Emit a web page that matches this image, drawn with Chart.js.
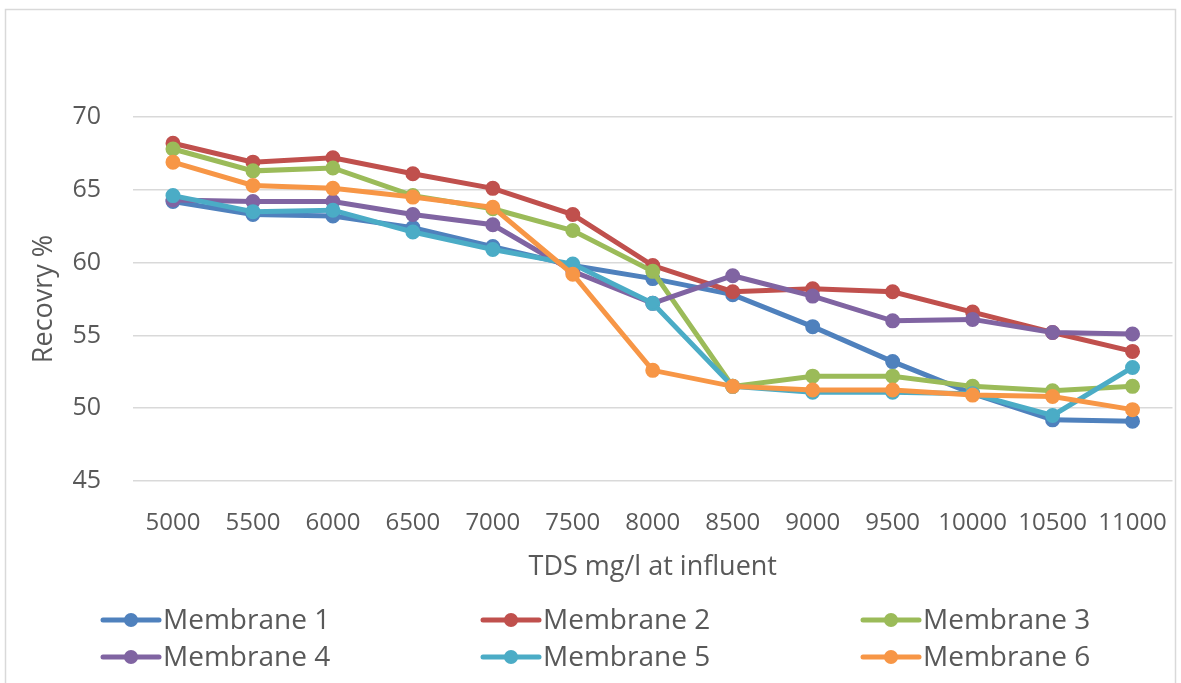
<!DOCTYPE html>
<html lang="en">
<head>
    <meta charset="UTF-8">
    <title>Recovery vs TDS</title>
    <script src="https://cdn.jsdelivr.net/npm/chart.js"></script>
    <style>
        html, body { margin: 0; padding: 0; background: #fff; }
        .chart-container { width: 1181px; height: 683px; position: relative; }
    </style>
</head>
<body>

    <div class="chart-container">
        <canvas id="recoveryChart"></canvas>
    </div>

    <script>
        const tds = ["5000", "5500", "6000", "6500", "7000", "7500", "8000", "8500", "9000", "9500", "10000", "10500", "11000"];

        const membrane1 = [64.2, 63.3, 63.2, 62.4, 61.1, 59.8, 58.9, 57.8, 55.6, 53.2, 51.0, 49.2, 49.1];
        const membrane2 = [68.2, 66.9, 67.2, 66.1, 65.1, 63.3, 59.8, 58.0, 58.2, 58.0, 56.6, 55.2, 53.9];
        const membrane3 = [67.8, 66.3, 66.5, 64.6, 63.7, 62.2, 59.4, 51.5, 52.2, 52.2, 51.5, 51.2, 51.5];
        const membrane4 = [64.3, 64.2, 64.2, 63.3, 62.6, 59.4, 57.2, 59.1, 57.7, 56.0, 56.1, 55.2, 55.1];
        const membrane5 = [64.6, 63.5, 63.6, 62.1, 60.9, 59.9, 57.2, 51.5, 51.1, 51.1, 51.0, 49.5, 52.8];
        const membrane6 = [66.9, 65.3, 65.1, 64.5, 63.8, 59.2, 52.6, 51.5, 51.25, 51.25, 50.9, 50.8, 49.9];

        const seriesNames = ["Membrane 1", "Membrane 2", "Membrane 3", "Membrane 4", "Membrane 5", "Membrane 6"];
        const seriesColors = ["#4f81bd", "#c0504d", "#9bbb59", "#8064a2", "#4bacc6", "#f79646"];
        const seriesValues = [membrane1, membrane2, membrane3, membrane4, membrane5, membrane6];

        const yTicks = [45, 50, 55, 60, 65, 70];

        const textColor = "#595959";
        const fontFamily = "'Open Sans', sans-serif";

        // frame around the whole chart, like the Excel chart border
        const framePlugin = {
            id: "frame",
            beforeDraw(chart) {
                const ctx = chart.ctx;
                ctx.save();
                ctx.strokeStyle = "#d9d9d9";
                ctx.lineWidth = 1.5;
                ctx.strokeRect(5.5, 9.5, 1170, 700);
                ctx.restore();
            }
        };

        // 3 column legend under the axis title
        const legendPlugin = {
            id: "gridLegend",
            afterDraw(chart) {
                const ctx = chart.ctx;
                ctx.save();
                ctx.font = "28px " + fontFamily;
                ctx.textBaseline = "middle";
                ctx.textAlign = "left";
                seriesNames.forEach((name, i) => {
                    const col = i % 3;
                    const row = Math.floor(i / 3);
                    const x = 103 + col * 380;
                    const y = 620 + row * 37;
                    ctx.strokeStyle = seriesColors[i];
                    ctx.lineWidth = 5;
                    ctx.lineCap = "round";
                    ctx.beginPath();
                    ctx.moveTo(x, y);
                    ctx.lineTo(x + 56, y);
                    ctx.stroke();
                    ctx.fillStyle = seriesColors[i];
                    ctx.beginPath();
                    ctx.arc(x + 28, y, 7, 0, Math.PI * 2);
                    ctx.fill();
                    ctx.fillStyle = textColor;
                    ctx.fillText(name, x + 60, y + 1);
                });
                ctx.restore();
            }
        };

        function renderChart() {
            const ctx = document.getElementById("recoveryChart").getContext("2d");
            new Chart(ctx, {
                type: "line",
                data: {
                    labels: tds,
                    datasets: seriesValues.map((vals, i) => ({
                        label: seriesNames[i],
                        data: vals,
                        borderColor: seriesColors[i],
                        backgroundColor: seriesColors[i],
                        borderWidth: 5,
                        pointRadius: 6.5,
                        pointBorderWidth: 2,
                        pointBorderColor: seriesColors[i],
                        pointBackgroundColor: seriesColors[i],
                        fill: false,
                        tension: 0,
                        order: seriesNames.length - i // later series on top
                    }))
                },
                plugins: [framePlugin, legendPlugin],
                options: {
                    responsive: true,
                    maintainAspectRatio: false,
                    animation: false,
                    layout: {
                        padding: { left: 0, top: 117, right: 7, bottom: 0 }
                    },
                    plugins: {
                        legend: { display: false },
                        title: { display: false },
                        tooltip: { enabled: false }
                    },
                    scales: {
                        x: {
                            offset: true,
                            grid: { display: false, drawTicks: false },
                            border: { display: false },
                            ticks: {
                                color: textColor,
                                font: { family: fontFamily, size: 24 },
                                padding: 28,
                                maxRotation: 0,
                                autoSkip: false
                            },
                            title: {
                                display: true,
                                text: "TDS mg/l at influent",
                                color: textColor,
                                font: { family: fontFamily, size: 27 },
                                padding: { top: 0, bottom: 99 }
                            },
                            afterFit(scale) {
                                scale.height = 202;
                                // labels fit inside the offset, no extra side padding
                                scale.paddingLeft = 0;
                                scale.paddingRight = 0;
                            }
                        },
                        y: {
                            min: 45,
                            max: 70,
                            afterBuildTicks(scale) {
                                scale.ticks = yTicks.map(v => ({ value: v }));
                            },
                            grid: {
                                display: true,
                                drawTicks: false,
                                color: "#d9d9d9",
                                lineWidth: 1.5
                            },
                            border: { display: false },
                            ticks: {
                                color: textColor,
                                font: { family: fontFamily, size: 25 },
                                padding: 32
                            },
                            title: {
                                display: true,
                                text: "Recovry %",
                                color: textColor,
                                font: { family: fontFamily, size: 27 },
                                padding: { top: 28, bottom: 0 }
                            },
                            afterFit(scale) {
                                scale.width = 133;
                            }
                        }
                    }
                }
            });
        }

        renderChart();
    </script>

</body>
</html>
